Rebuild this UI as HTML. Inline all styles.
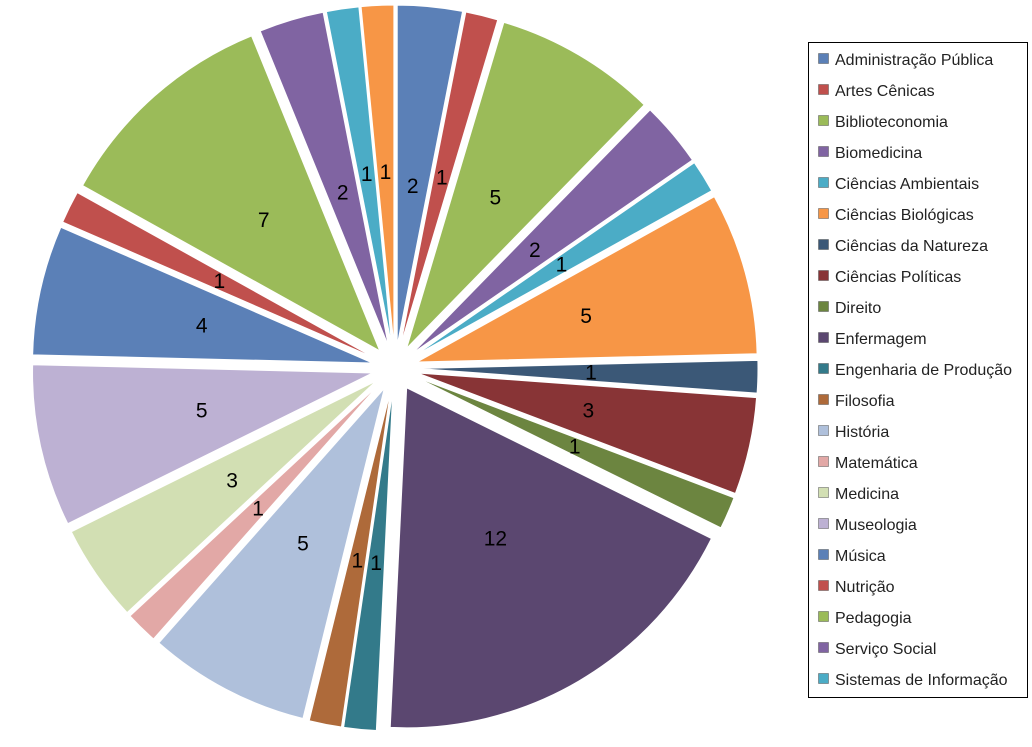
<!DOCTYPE html>
<html><head><meta charset="utf-8"><style>
body{margin:0;background:#fff;width:1032px;height:742px;overflow:hidden;font-family:"Liberation Sans","DejaVu Sans",sans-serif}
</style></head><body>
<svg id="s" width="1032" height="742" xmlns="http://www.w3.org/2000/svg"></svg>
<script>
var vals=[2,1,5,2,1,5,1,3,1,12,1,1,5,1,3,5,4,1,7,2,1,1];
var cols=["#5B80B7","#C0504D","#9BBB59","#8064A2","#4BACC6","#F79646","#3B5877","#883436","#6C8540","#5B4770","#337A8A","#AE6A3A","#AFC0DB","#E2A8A6","#D2DFB3","#BDB1D3","#5B80B7","#C0504D","#9BBB59","#8064A2","#4BACC6","#F79646"];
var names=["Administração Pública","Artes Cênicas","Biblioteconomia","Biomedicina","Ciências Ambientais","Ciências Biológicas","Ciências da Natureza","Ciências Políticas","Direito","Enfermagem","Engenharia de Produção","Filosofia","História","Matemática","Medicina","Museologia","Música","Nutrição","Pedagogia","Serviço Social","Sistemas de Informação"];
var cx=395,cy=368,R=340,off=23,tot=65,a=0,h="";
function pt(r,ang,ox,oy){return [ox+r*Math.sin(ang),oy-r*Math.cos(ang)];}
vals.forEach(function(v,i){
 var a0=a/tot*2*Math.PI,a1=(a+v)/tot*2*Math.PI,m=(a0+a1)/2;
 var ox=cx+off*Math.sin(m),oy=cy-off*Math.cos(m);
 var p0=pt(R,a0,ox,oy),p1=pt(R,a1,ox,oy);
 h+='<path d="M'+ox+','+oy+' L'+p0[0]+','+p0[1]+' A'+R+','+R+' 0 '+(v/tot>0.5?1:0)+' 1 '+p1[0]+','+p1[1]+' Z" fill="'+cols[i]+'" stroke="#fff" stroke-width="1"/>';
 var lr=v>=3?198:(v==2?183:196);
 var l=pt(lr,m,cx,cy);
 h+='<text x="'+l[0]+'" y="'+(l[1]+7)+'" font-size="21" text-anchor="middle" fill="#000">'+v+'</text>';
 a+=v;
});
h+='<rect x="808.5" y="42.5" width="219" height="655" fill="#fff" stroke="#000" stroke-width="1"/>';
names.forEach(function(n,i){var y=59+i*31;
 h+='<rect x="818.5" y="'+(y-5.5)+'" width="10" height="10" fill="'+cols[i]+'" stroke="#555" stroke-width="0.5"/>';
 h+='<text x="835" y="'+(y+6)+'" font-size="16" fill="#222">'+n+'</text>';});
document.getElementById("s").innerHTML=h;
</script>
</body></html>
